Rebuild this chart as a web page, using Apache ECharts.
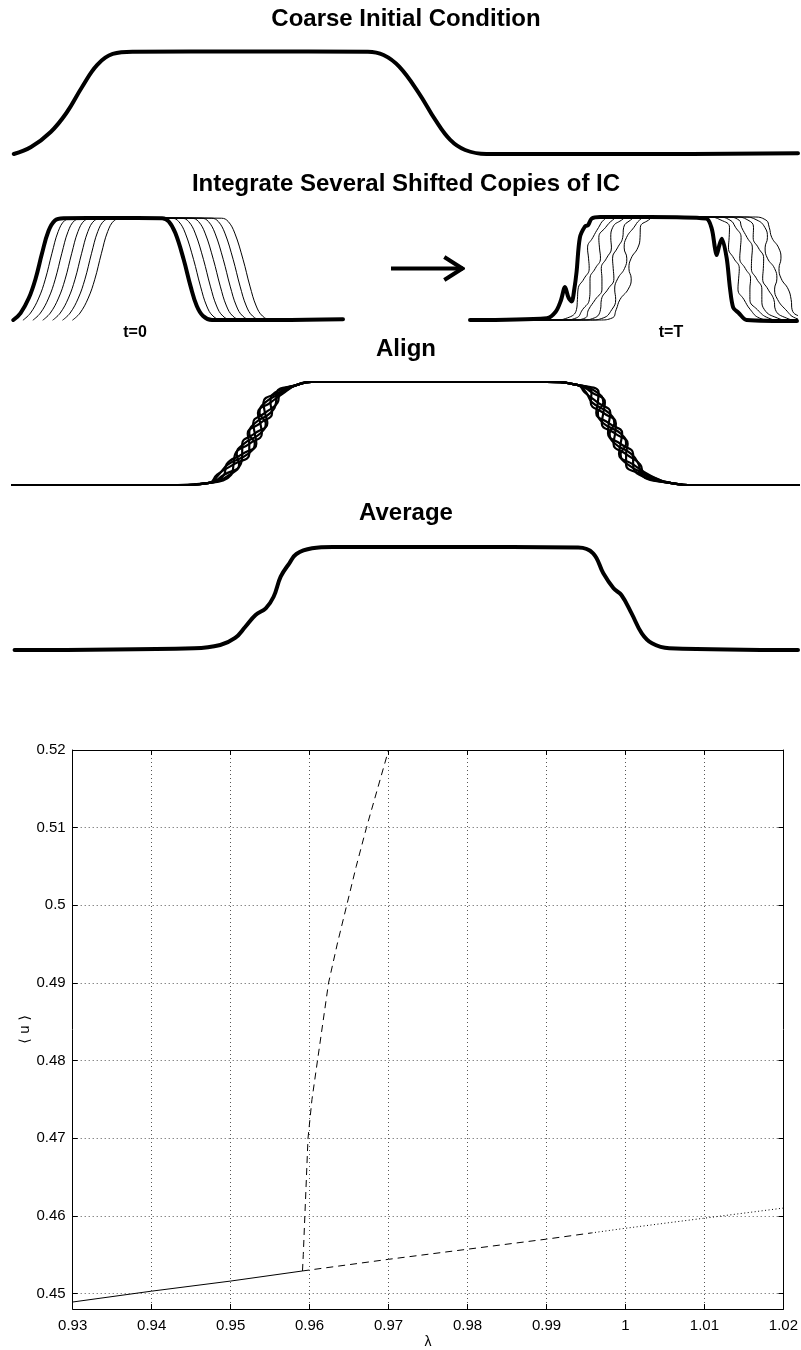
<!DOCTYPE html>
<html><head><meta charset="utf-8">
<script src="https://cdn.jsdelivr.net/npm/echarts@6/dist/echarts.min.js"></script>
<style>html,body{margin:0;padding:0;background:#fff}#c{width:801px;height:1350px}</style>
</head><body><div id="c"></div>
<script>
// ---------- schematic profiles (x: 0..1 across a panel, y: 0 = low state, 1 = plateau)
const icX = [0.001,0.023,0.048,0.068,0.088,0.107,0.127,0.153,0.30,0.452,0.472,0.492,0.517,0.538,0.557,0.576,0.603,0.80,1.0];
const icY = [0.0,0.068,0.215,0.40,0.654,0.868,0.976,0.998,1.0,0.998,0.966,0.852,0.595,0.332,0.137,0.039,0.0,0.0,0.007];
const t0Shifts = [0.03,0.06,0.09,0.12,0.15,0.18];

const tTThickX = [0,0.235,0.262,0.278,0.2905,0.301,0.311,0.319,0.326,0.336,0.352,0.361,0.372,0.398,0.55,0.722,0.739,0.749,0.754,0.762,0.770,0.785,0.795,0.805,0.821,0.846,1.0];
const tTThickY = [0,0.017,0.08,0.19,0.32,0.22,0.18,0.30,0.47,0.80,0.91,0.92,0.985,1.0,1.0,0.985,0.89,0.70,0.63,0.72,0.79,0.60,0.31,0.12,0.07,0.0,-0.01];

const riseH = [0.02,0.10,0.20,0.30,0.40,0.50,0.60,0.70,0.80,0.90,0.97];
const riseX = [0.270,0.289,0.301,0.312,0.321,0.328,0.335,0.341,0.348,0.360,0.381];
const fallH = [0.97,0.90,0.80,0.70,0.60,0.50,0.40,0.30,0.20,0.10,0.02];
const fallX = [0.740,0.757,0.765,0.772,0.779,0.787,0.794,0.801,0.810,0.824,0.857];
const wiggles = [
  [0, 0.009, 0, -0.009, 0, 0.009, 0, -0.009, 0, 0.006, 0],
  [0, 0, 0.009, 0, -0.009, 0, 0.009, 0, -0.009, 0, 0],
  [0, -0.009, 0, 0.009, 0, -0.009, 0, 0.009, 0, -0.006, 0],
  [0, 0, -0.009, 0, 0.009, 0, -0.009, 0, 0.009, 0, 0],
  [0, 0.007, 0.007, -0.007, -0.007, 0.007, 0.007, -0.007, -0.007, 0.004, 0],
  [0, -0.007, -0.007, 0.007, 0.007, -0.007, -0.007, 0.007, 0.007, -0.004, 0]
];
const tTShifts = [0.0275,0.055,0.0825,0.11,0.1375,0.165];
const alignShift = -0.02;

const avgX = [0.002,0.231,0.264,0.283,0.296,0.309,0.322,0.332,0.341,0.352,0.361,0.381,0.407,0.55,0.720,0.739,0.752,0.765,0.775,0.788,0.801,0.814,0.836,1.0];
const avgY = [0,0.017,0.049,0.117,0.226,0.34,0.405,0.517,0.712,0.842,0.932,0.987,1.0,1.0,0.994,0.939,0.745,0.599,0.534,0.356,0.162,0.065,0.017,0];

// ---------- bifurcation diagram
const stableLam = [0.93,0.94,0.95,0.9591];
const stableU   = [0.4489,0.4503,0.4516,0.4529];
const upperLam  = [0.9591,0.9592,0.9594,0.9596,0.9598,0.9603,0.9610,0.9617,0.9624,0.9635,0.9647,0.9659,0.9672,0.9686,0.9700];
const upperU    = [0.4529,0.455,0.46,0.465,0.47,0.475,0.48,0.485,0.49,0.495,0.50,0.505,0.51,0.515,0.52];
const lowerLam  = [0.9591,0.97,0.98,0.99,0.9957];
const lowerU    = [0.4529,0.4544,0.4557,0.4570,0.4578];
const dotLam    = [0.9957,1.0,1.01,1.02];
const dotU      = [0.4578,0.4584,0.4597,0.4610];

// ---------- layout
const panels = [
  {l:13,  w:785, t:51.5, h:102.5}, // coarse IC
  {l:13,  w:330, t:218,  h:102},   // t=0
  {l:470, w:327, t:217,  h:103},   // t=T
  {l:391, w:72,  t:257,  h:23},    // arrow
  {l:13,  w:785, t:382,  h:103},   // align
  {l:13,  w:785, t:547,  h:103}    // average
];
const PAD = 0.1;
const zip = (a,b) => a.map((v,i)=>[v,b[i]]);
const shifted = (pts,s) => pts.map(p=>[p[0]+s,p[1]]);
function thinProfile(w, shift){
  const pts = [[shift-0.05,0],[0.23+shift,0]];
  for (let i=0;i<riseH.length;i++) pts.push([riseX[i]+w[i]+shift, riseH[i]]);
  pts.push([0.40+shift,1],[0.70+shift,1]);
  for (let i=0;i<fallH.length;i++) pts.push([fallX[i]+w[i]+shift, fallH[i]]);
  pts.push([0.89+shift,0],[1.1+shift,0]);
  return pts;
}

const grid = panels.map(p=>({left:p.l, top:p.t-PAD*p.h, width:p.w, height:p.h*(1+2*PAD)}));
grid.push({left:72.7, right:17.3, top:750, bottom:40});

const xAxis = panels.map((p,i)=>({gridIndex:i,type:'value',min:0,max:1,show:false}));
const yAxis = panels.map((p,i)=>({gridIndex:i,type:'value',min:-PAD,max:1+PAD,show:false}));
const FONT = '"Liberation Sans", Arial, Helvetica, sans-serif';
const axisCommon = {
  axisLine:{show:true,onZero:false,lineStyle:{color:'#000',width:1}},
  axisTick:{show:true,inside:true,length:5,lineStyle:{color:'#000'}}
};
xAxis.push(Object.assign({gridIndex:6,type:'value',min:0.93,max:1.02,interval:0.01,position:'bottom',
  axisLabel:{color:'#000',fontSize:15,fontFamily:FONT,margin:9},
  splitLine:{show:true,lineStyle:{color:'#555',width:1,type:[1,3]}},
  name:'λ',nameLocation:'middle',nameGap:26,nameMoveOverlap:false,nameTextStyle:{color:'#000',fontSize:14,fontFamily:FONT}},axisCommon));
xAxis.push(Object.assign({gridIndex:6,type:'value',min:0.93,max:1.02,interval:0.01,position:'top',
  axisLabel:{show:false},splitLine:{show:false}},axisCommon));
const yCommon = {gridIndex:6,type:'value',min:0.448,max:0.52,splitNumber:7,minInterval:0.01,maxInterval:0.01};
yAxis.push(Object.assign({},yCommon,{position:'left',
  axisLabel:{color:'#000',fontSize:15,fontFamily:FONT,margin:7,showMinLabel:false},
  splitLine:{show:true,lineStyle:{color:'#555',width:1,type:[1,3]}},
  name:'⟨ u ⟩',nameLocation:'middle',nameRotate:90,nameGap:40,nameMoveOverlap:false,nameTextStyle:{color:'#000',fontSize:14,fontFamily:'"DejaVu Sans", '+FONT}},axisCommon));
yAxis.push(Object.assign({},yCommon,{position:'right',axisLabel:{show:false},splitLine:{show:false}},axisCommon));

const series = [];
function curve(g, data, width, extra){
  series.push(Object.assign({type:'line',xAxisIndex:g,yAxisIndex:g,data:data,symbol:'none',
    smooth:0.4,animation:false,silent:true,
    lineStyle:{color:'#000',width:width,cap:'round',join:'round'}},extra||{}));
}
const icPts = zip(icX,icY);
// panel 0: coarse IC
curve(0, icPts, 4);
// panel 1: t=0 shifted copies
t0Shifts.forEach(s=>curve(1, shifted(icPts,s), 1));
curve(1, icPts, 4);
// panel 2: t=T
wiggles.forEach((w,k)=>curve(2, thinProfile(w,tTShifts[k]), 1, {smooth:0.5}));
curve(2, zip(tTThickX,tTThickY), 4, {smooth:0.3});
// panel 3: arrow
curve(3, [[0,0.5],[1,0.5]], 4, {smooth:false,lineStyle:{color:'#000',width:4,cap:'butt'}});
curve(3, [[0.74,1.0],[0.99,0.5],[0.74,0.0]], 4, {smooth:false,lineStyle:{color:'#000',width:4,cap:'butt',join:'miter'}});
// panel 4: aligned copies
wiggles.forEach((w)=>curve(4, thinProfile(w,alignShift), 2.2, {smooth:0.5}));
// panel 5: average
curve(5, zip(avgX,avgY), 4);

// bifurcation branches
function branch(data, type){
  series.push({type:'line',xAxisIndex:6,yAxisIndex:6,data:data,symbol:'none',animation:false,silent:true,
    lineStyle:{color:'#000',width:1,type:type}});
}
branch(zip(stableLam,stableU),'solid');
branch(zip(upperLam,upperU),[7,5]);
branch(zip(lowerLam,lowerU),[7,5]);
branch(zip(dotLam,dotU),[1,2.5]);

function label(text,x,y,size){
  return {type:'text',x:x,y:y,silent:true,style:{text:text,font:'bold '+size+'px '+FONT,fill:'#000',
    align:'center',verticalAlign:'middle',textAlign:'center',textVerticalAlign:'middle'}};
}
const graphic = [
  label('Coarse Initial Condition',406,19,24),
  label('Integrate Several Shifted Copies of IC',406,184,24),
  label('t=0',135,333,16),
  label('t=T',671,333,16),
  label('Align',406,349,24),
  label('Average',406,513,24)
];

const chart = echarts.init(document.getElementById('c'));
chart.setOption({animation:false,backgroundColor:'#fff',grid:grid,xAxis:xAxis,yAxis:yAxis,series:series,graphic:graphic});
</script></body></html>
